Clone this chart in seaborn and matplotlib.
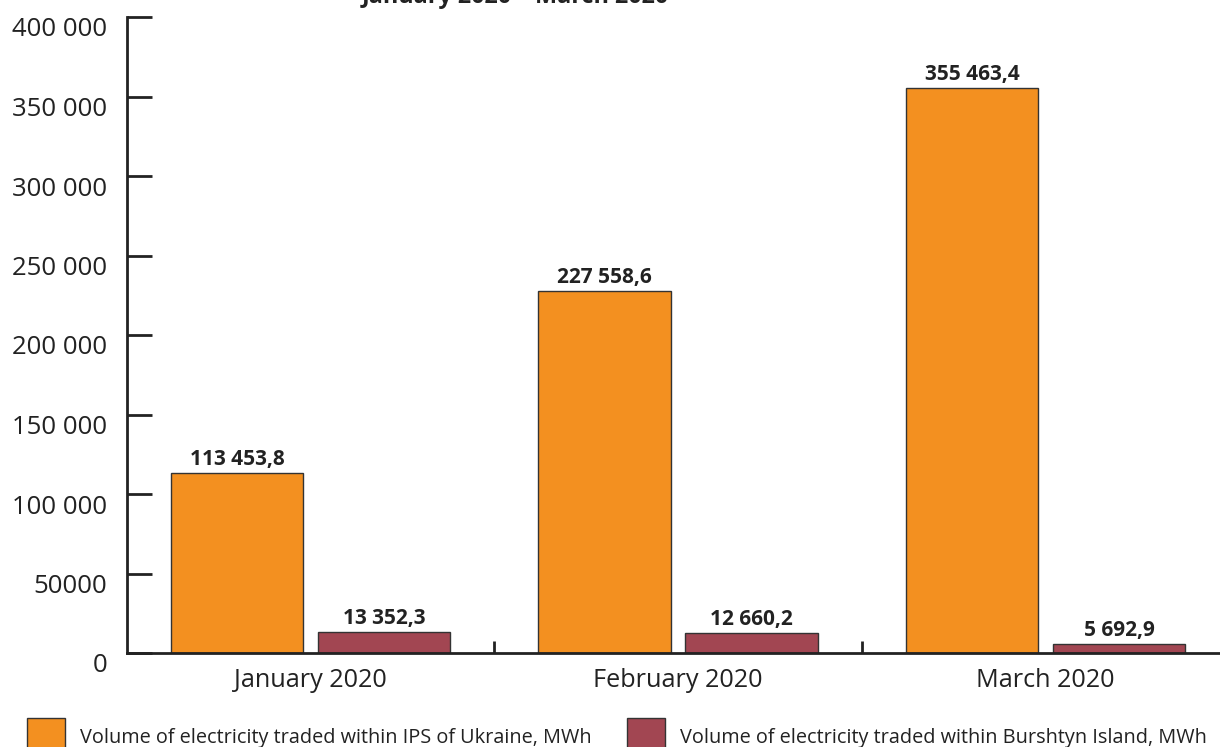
import pandas as pd
import matplotlib.pyplot as plt
import matplotlib.transforms as mtransforms
from matplotlib.patches import Patch
import seaborn as sns

# chart data
months = ['January 2020', 'February 2020', 'March 2020']
ips_ukraine = [113453.8, 227558.6, 355463.4]
burshtyn = [13352.3, 12660.2, 5692.9]
series_names = ['Volume of electricity traded within IPS of Ukraine, MWh',
                'Volume of electricity traded within Burshtyn Island, MWh']
ytick_values = [0, 50000, 100000, 150000, 200000, 250000, 300000, 350000, 400000]
ytick_labels = ['0', '50000', '100 000', '150 000', '200 000', '250 000',
                '300 000', '350 000', '400 000']
title = 'January 2020 \u2013 March 2020'

colors = ['#F39020', '#A24652']

df = pd.DataFrame({
    'month': months * 2,
    'series': [series_names[0]] * 3 + [series_names[1]] * 3,
    'value': ips_ukraine + burshtyn,
})

sns.set_style('white')
plt.rcParams['font.family'] = ['Open Sans', 'DejaVu Sans']

fig = plt.figure(figsize=(12.2, 7.47), dpi=100)
ax = fig.add_axes([127 / 1220, 1 - 653 / 747, 1 - 127 / 1220, 636 / 747])

sns.barplot(data=df, x='month', y='value', hue='series', palette=colors,
            saturation=1, width=0.8, gap=0.1, edgecolor='#333333',
            linewidth=1, legend=False, ax=ax)

ax.set_xlim(-0.5, 2.475)
ax.set_ylim(0, 400000)
ax.set_xlabel('')
ax.set_ylabel('')

# value labels
def fmt(v):
    s = f'{v:,.1f}'
    return s.replace(',', ' ').replace('.', ',')

for cont in ax.containers:
    for bar in cont:
        h = bar.get_height()
        ax.annotate(fmt(h), (bar.get_x() + bar.get_width() / 2, h),
                    xytext=(0, 2), textcoords='offset points',
                    ha='center', va='bottom', fontsize=15, fontweight='bold',
                    color='#222222')

# axes styling
for side in ['top', 'right']:
    ax.spines[side].set_visible(False)
for side in ['left', 'bottom']:
    ax.spines[side].set_linewidth(2)
    ax.spines[side].set_color('#222222')

ax.set_yticks(ytick_values)
ax.set_yticklabels(ytick_labels)
ax.tick_params(axis='y', direction='in', length=18, width=2, color='#222222',
               pad=14, labelsize=18.5, labelcolor='#222222', left=True)
offset = mtransforms.ScaledTranslation(0, -10 / 100, fig.dpi_scale_trans)
for lab in ax.get_yticklabels():
    lab.set_transform(lab.get_transform() + offset)

ax.tick_params(axis='x', which='major', length=0, pad=11, labelsize=18.2,
               labelcolor='#222222')
ax.set_xticks([0.5, 1.5], minor=True)
ax.tick_params(axis='x', which='minor', direction='in', length=9, width=2,
               color='#222222', bottom=True)

# title (partly cut off at the top)
fig.text(515 / 1220, 1 - 3 / 747, title, ha='center', va='baseline',
         fontsize=16.8, fontweight='bold', color='#222222')

# legend
for i, (name, c) in enumerate(zip(series_names, colors)):
    x0 = [27, 627][i]
    fig.legend(handles=[Patch(facecolor=c, edgecolor='#333333', linewidth=1)],
               labels=[name], loc='upper left',
               bbox_to_anchor=(x0 / 1220, 1 - 718 / 747),
               frameon=False, borderpad=0, borderaxespad=0,
               handlelength=1.9, handleheight=2.5, handletextpad=0.75,
               fontsize=14.3, labelcolor='#222222')

fig.savefig('out.png', dpi=100)
